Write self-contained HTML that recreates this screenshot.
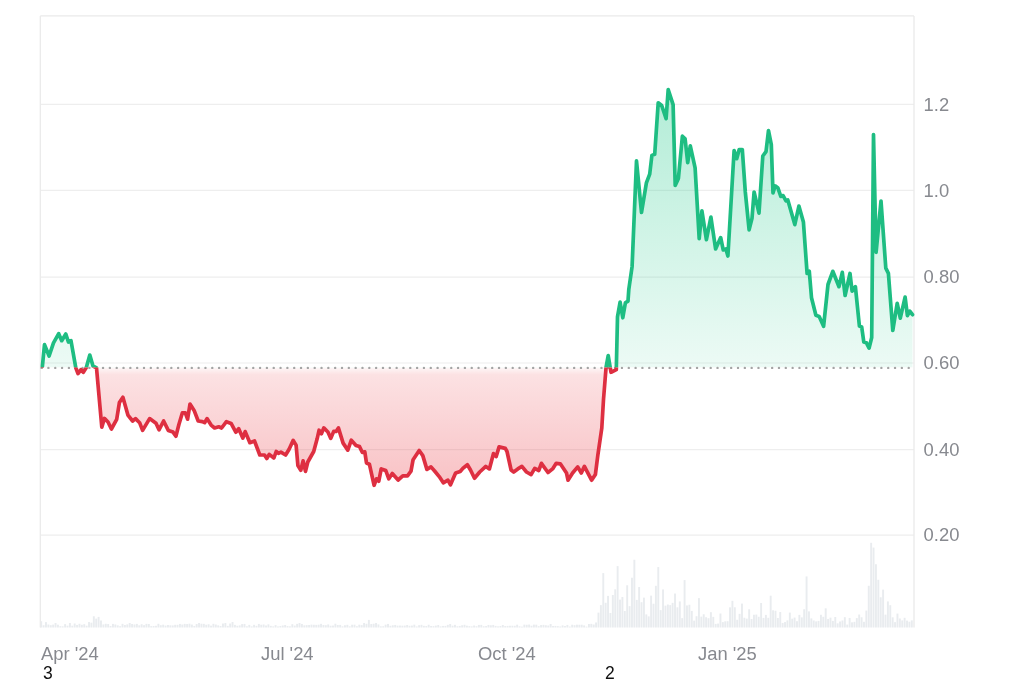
<!DOCTYPE html>
<html><head><meta charset="utf-8">
<style>
html,body{margin:0;padding:0;background:#fff;width:1024px;height:683px;overflow:hidden}
svg{display:block;filter:blur(0.35px)}
text{font-family:"Liberation Sans",sans-serif}
</style></head><body>
<svg width="1024" height="683" viewBox="0 0 1024 683">
<defs>
<clipPath id="up"><rect x="0" y="0" width="1024" height="367.6"/></clipPath>
<clipPath id="dn"><rect x="0" y="367.6" width="1024" height="315.4"/></clipPath>
<linearGradient id="gg" x1="0" y1="89" x2="0" y2="367.6" gradientUnits="userSpaceOnUse">
<stop offset="0" stop-color="#16c784" stop-opacity="0.33"/>
<stop offset="1" stop-color="#16c784" stop-opacity="0.08"/>
</linearGradient>
<linearGradient id="rg" x1="0" y1="367.6" x2="0" y2="486" gradientUnits="userSpaceOnUse">
<stop offset="0" stop-color="#ea3943" stop-opacity="0.04"/>
<stop offset="0.06" stop-color="#ea3943" stop-opacity="0.15"/>
<stop offset="1" stop-color="#ea3943" stop-opacity="0.31"/>
</linearGradient>
</defs>
<rect width="1024" height="683" fill="#fff"/>
<g fill="#e9ecef"><rect x="40.24" y="621.24" width="1.91" height="6.26"/><rect x="42.63" y="625.23" width="1.91" height="2.27"/><rect x="45.02" y="622.10" width="1.91" height="5.40"/><rect x="47.41" y="624.52" width="1.91" height="2.98"/><rect x="49.81" y="625.18" width="1.91" height="2.32"/><rect x="52.20" y="624.63" width="1.91" height="2.87"/><rect x="54.59" y="623.00" width="1.91" height="4.50"/><rect x="56.98" y="624.69" width="1.91" height="2.81"/><rect x="59.37" y="626.20" width="1.91" height="1.30"/><rect x="61.77" y="626.34" width="1.91" height="1.16"/><rect x="64.16" y="624.11" width="1.91" height="3.39"/><rect x="66.55" y="625.67" width="1.91" height="1.83"/><rect x="68.94" y="623.00" width="1.91" height="4.50"/><rect x="71.33" y="625.70" width="1.91" height="1.80"/><rect x="73.72" y="623.49" width="1.91" height="4.01"/><rect x="76.12" y="624.92" width="1.91" height="2.58"/><rect x="78.51" y="623.76" width="1.91" height="3.74"/><rect x="80.90" y="624.77" width="1.91" height="2.73"/><rect x="83.29" y="624.20" width="1.91" height="3.30"/><rect x="85.68" y="625.69" width="1.91" height="1.81"/><rect x="88.07" y="622.05" width="1.91" height="5.45"/><rect x="90.47" y="622.68" width="1.91" height="4.82"/><rect x="92.86" y="616.28" width="1.91" height="11.22"/><rect x="95.25" y="618.64" width="1.91" height="8.86"/><rect x="97.64" y="616.90" width="1.91" height="10.60"/><rect x="100.03" y="620.49" width="1.91" height="7.01"/><rect x="102.43" y="624.43" width="1.91" height="3.07"/><rect x="104.82" y="623.77" width="1.91" height="3.73"/><rect x="107.21" y="624.05" width="1.91" height="3.45"/><rect x="109.60" y="626.00" width="1.91" height="1.50"/><rect x="111.99" y="623.90" width="1.91" height="3.60"/><rect x="114.38" y="624.46" width="1.91" height="3.04"/><rect x="116.78" y="625.37" width="1.91" height="2.13"/><rect x="119.17" y="626.20" width="1.91" height="1.30"/><rect x="121.56" y="623.83" width="1.91" height="3.67"/><rect x="123.95" y="625.00" width="1.91" height="2.50"/><rect x="126.34" y="624.37" width="1.91" height="3.13"/><rect x="128.74" y="622.99" width="1.91" height="4.51"/><rect x="131.13" y="624.00" width="1.91" height="3.50"/><rect x="133.52" y="624.45" width="1.91" height="3.05"/><rect x="135.91" y="623.89" width="1.91" height="3.61"/><rect x="138.30" y="625.31" width="1.91" height="2.19"/><rect x="140.69" y="624.21" width="1.91" height="3.29"/><rect x="143.09" y="625.17" width="1.91" height="2.33"/><rect x="145.48" y="623.85" width="1.91" height="3.65"/><rect x="147.87" y="624.00" width="1.91" height="3.50"/><rect x="150.26" y="626.11" width="1.91" height="1.39"/><rect x="152.65" y="626.01" width="1.91" height="1.49"/><rect x="155.04" y="625.79" width="1.91" height="1.71"/><rect x="157.44" y="623.77" width="1.91" height="3.73"/><rect x="159.83" y="625.20" width="1.91" height="2.30"/><rect x="162.22" y="624.68" width="1.91" height="2.82"/><rect x="164.61" y="625.56" width="1.91" height="1.94"/><rect x="167.00" y="625.01" width="1.91" height="2.49"/><rect x="169.40" y="625.33" width="1.91" height="2.17"/><rect x="171.79" y="625.43" width="1.91" height="2.07"/><rect x="174.18" y="624.80" width="1.91" height="2.70"/><rect x="176.57" y="624.80" width="1.91" height="2.70"/><rect x="178.96" y="623.93" width="1.91" height="3.57"/><rect x="181.35" y="624.53" width="1.91" height="2.97"/><rect x="183.75" y="623.87" width="1.91" height="3.63"/><rect x="186.14" y="624.06" width="1.91" height="3.44"/><rect x="188.53" y="623.70" width="1.91" height="3.80"/><rect x="190.92" y="624.56" width="1.91" height="2.94"/><rect x="193.31" y="625.93" width="1.91" height="1.57"/><rect x="195.70" y="624.05" width="1.91" height="3.45"/><rect x="198.10" y="623.00" width="1.91" height="4.50"/><rect x="200.49" y="623.73" width="1.91" height="3.77"/><rect x="202.88" y="623.84" width="1.91" height="3.66"/><rect x="205.27" y="624.72" width="1.91" height="2.78"/><rect x="207.66" y="624.26" width="1.91" height="3.24"/><rect x="210.06" y="625.68" width="1.91" height="1.82"/><rect x="212.45" y="623.82" width="1.91" height="3.68"/><rect x="214.84" y="624.53" width="1.91" height="2.97"/><rect x="217.23" y="625.37" width="1.91" height="2.13"/><rect x="219.62" y="626.02" width="1.91" height="1.48"/><rect x="222.01" y="623.52" width="1.91" height="3.98"/><rect x="224.41" y="623.03" width="1.91" height="4.47"/><rect x="226.80" y="625.87" width="1.91" height="1.63"/><rect x="229.19" y="623.53" width="1.91" height="3.97"/><rect x="231.58" y="622.04" width="1.91" height="5.46"/><rect x="233.97" y="624.87" width="1.91" height="2.63"/><rect x="236.37" y="625.76" width="1.91" height="1.74"/><rect x="238.76" y="625.39" width="1.91" height="2.11"/><rect x="241.15" y="624.10" width="1.91" height="3.40"/><rect x="243.54" y="623.94" width="1.91" height="3.56"/><rect x="245.93" y="626.27" width="1.91" height="1.23"/><rect x="248.32" y="624.86" width="1.91" height="2.64"/><rect x="250.72" y="626.37" width="1.91" height="1.13"/><rect x="253.11" y="624.83" width="1.91" height="2.67"/><rect x="255.50" y="625.82" width="1.91" height="1.68"/><rect x="257.89" y="623.92" width="1.91" height="3.58"/><rect x="260.28" y="624.75" width="1.91" height="2.75"/><rect x="262.67" y="624.49" width="1.91" height="3.01"/><rect x="265.07" y="625.48" width="1.91" height="2.02"/><rect x="267.46" y="624.35" width="1.91" height="3.15"/><rect x="269.85" y="625.86" width="1.91" height="1.64"/><rect x="272.24" y="626.37" width="1.91" height="1.13"/><rect x="274.63" y="625.13" width="1.91" height="2.37"/><rect x="277.03" y="626.44" width="1.91" height="1.06"/><rect x="279.42" y="626.02" width="1.91" height="1.48"/><rect x="281.81" y="625.49" width="1.91" height="2.01"/><rect x="284.20" y="624.96" width="1.91" height="2.54"/><rect x="286.59" y="626.06" width="1.91" height="1.44"/><rect x="288.98" y="626.33" width="1.91" height="1.17"/><rect x="291.38" y="624.18" width="1.91" height="3.32"/><rect x="293.77" y="625.59" width="1.91" height="1.91"/><rect x="296.16" y="623.85" width="1.91" height="3.65"/><rect x="298.55" y="623.01" width="1.91" height="4.49"/><rect x="300.94" y="623.95" width="1.91" height="3.55"/><rect x="303.34" y="625.35" width="1.91" height="2.15"/><rect x="305.73" y="625.13" width="1.91" height="2.37"/><rect x="308.12" y="624.97" width="1.91" height="2.53"/><rect x="310.51" y="624.64" width="1.91" height="2.86"/><rect x="312.90" y="624.77" width="1.91" height="2.73"/><rect x="315.29" y="624.86" width="1.91" height="2.64"/><rect x="317.69" y="624.70" width="1.91" height="2.80"/><rect x="320.08" y="623.84" width="1.91" height="3.66"/><rect x="322.47" y="625.01" width="1.91" height="2.49"/><rect x="324.86" y="625.21" width="1.91" height="2.29"/><rect x="327.25" y="624.43" width="1.91" height="3.07"/><rect x="329.64" y="625.73" width="1.91" height="1.77"/><rect x="332.04" y="625.56" width="1.91" height="1.94"/><rect x="334.43" y="623.73" width="1.91" height="3.77"/><rect x="336.82" y="624.97" width="1.91" height="2.53"/><rect x="339.21" y="624.89" width="1.91" height="2.61"/><rect x="341.60" y="626.34" width="1.91" height="1.16"/><rect x="344.00" y="625.25" width="1.91" height="2.25"/><rect x="346.39" y="624.81" width="1.91" height="2.69"/><rect x="348.78" y="626.32" width="1.91" height="1.18"/><rect x="351.17" y="624.71" width="1.91" height="2.79"/><rect x="353.56" y="624.67" width="1.91" height="2.83"/><rect x="355.95" y="626.21" width="1.91" height="1.29"/><rect x="358.35" y="624.68" width="1.91" height="2.82"/><rect x="360.74" y="625.12" width="1.91" height="2.38"/><rect x="363.13" y="623.00" width="1.91" height="4.50"/><rect x="365.52" y="623.76" width="1.91" height="3.74"/><rect x="367.91" y="619.90" width="1.91" height="7.60"/><rect x="370.30" y="624.04" width="1.91" height="3.46"/><rect x="372.70" y="623.74" width="1.91" height="3.76"/><rect x="375.09" y="623.01" width="1.91" height="4.49"/><rect x="377.48" y="624.41" width="1.91" height="3.09"/><rect x="379.87" y="626.34" width="1.91" height="1.16"/><rect x="382.26" y="626.24" width="1.91" height="1.26"/><rect x="384.66" y="624.64" width="1.91" height="2.86"/><rect x="387.05" y="623.92" width="1.91" height="3.58"/><rect x="389.44" y="625.78" width="1.91" height="1.72"/><rect x="391.83" y="625.27" width="1.91" height="2.23"/><rect x="394.22" y="624.94" width="1.91" height="2.56"/><rect x="396.61" y="625.64" width="1.91" height="1.86"/><rect x="399.01" y="625.55" width="1.91" height="1.95"/><rect x="401.40" y="625.69" width="1.91" height="1.81"/><rect x="403.79" y="625.57" width="1.91" height="1.93"/><rect x="406.18" y="625.03" width="1.91" height="2.47"/><rect x="408.57" y="625.76" width="1.91" height="1.74"/><rect x="410.97" y="625.59" width="1.91" height="1.91"/><rect x="413.36" y="624.66" width="1.91" height="2.84"/><rect x="415.75" y="626.45" width="1.91" height="1.05"/><rect x="418.14" y="625.19" width="1.91" height="2.31"/><rect x="420.53" y="624.82" width="1.91" height="2.68"/><rect x="422.92" y="625.82" width="1.91" height="1.68"/><rect x="425.32" y="626.04" width="1.91" height="1.46"/><rect x="427.71" y="624.73" width="1.91" height="2.77"/><rect x="430.10" y="626.02" width="1.91" height="1.48"/><rect x="432.49" y="626.15" width="1.91" height="1.35"/><rect x="434.88" y="625.61" width="1.91" height="1.89"/><rect x="437.27" y="625.05" width="1.91" height="2.45"/><rect x="439.67" y="626.37" width="1.91" height="1.13"/><rect x="442.06" y="625.91" width="1.91" height="1.59"/><rect x="444.45" y="625.90" width="1.91" height="1.60"/><rect x="446.84" y="624.85" width="1.91" height="2.65"/><rect x="449.23" y="624.00" width="1.91" height="3.50"/><rect x="451.63" y="625.70" width="1.91" height="1.80"/><rect x="454.02" y="624.83" width="1.91" height="2.67"/><rect x="456.41" y="626.27" width="1.91" height="1.23"/><rect x="458.80" y="625.92" width="1.91" height="1.58"/><rect x="461.19" y="625.26" width="1.91" height="2.24"/><rect x="463.58" y="624.77" width="1.91" height="2.73"/><rect x="465.98" y="625.68" width="1.91" height="1.82"/><rect x="468.37" y="626.15" width="1.91" height="1.35"/><rect x="470.76" y="626.37" width="1.91" height="1.13"/><rect x="473.15" y="625.51" width="1.91" height="1.99"/><rect x="475.54" y="626.22" width="1.91" height="1.28"/><rect x="477.94" y="624.93" width="1.91" height="2.57"/><rect x="480.33" y="624.86" width="1.91" height="2.64"/><rect x="482.72" y="626.24" width="1.91" height="1.26"/><rect x="485.11" y="626.04" width="1.91" height="1.46"/><rect x="487.50" y="624.93" width="1.91" height="2.57"/><rect x="489.89" y="625.28" width="1.91" height="2.22"/><rect x="492.29" y="624.93" width="1.91" height="2.57"/><rect x="494.68" y="625.90" width="1.91" height="1.60"/><rect x="497.07" y="626.35" width="1.91" height="1.15"/><rect x="499.46" y="626.01" width="1.91" height="1.49"/><rect x="501.85" y="624.96" width="1.91" height="2.54"/><rect x="504.24" y="626.06" width="1.91" height="1.44"/><rect x="506.64" y="625.90" width="1.91" height="1.60"/><rect x="509.03" y="625.75" width="1.91" height="1.75"/><rect x="511.42" y="625.74" width="1.91" height="1.76"/><rect x="513.81" y="625.77" width="1.91" height="1.73"/><rect x="516.20" y="624.69" width="1.91" height="2.81"/><rect x="518.60" y="626.30" width="1.91" height="1.20"/><rect x="520.99" y="626.62" width="1.91" height="0.88"/><rect x="523.38" y="624.64" width="1.91" height="2.86"/><rect x="525.77" y="624.78" width="1.91" height="2.72"/><rect x="528.16" y="624.55" width="1.91" height="2.95"/><rect x="530.55" y="625.71" width="1.91" height="1.79"/><rect x="532.95" y="624.63" width="1.91" height="2.87"/><rect x="535.34" y="624.68" width="1.91" height="2.82"/><rect x="537.73" y="626.16" width="1.91" height="1.34"/><rect x="540.12" y="625.06" width="1.91" height="2.44"/><rect x="542.51" y="624.87" width="1.91" height="2.63"/><rect x="544.90" y="625.23" width="1.91" height="2.27"/><rect x="547.30" y="625.54" width="1.91" height="1.96"/><rect x="549.69" y="624.00" width="1.91" height="3.50"/><rect x="552.08" y="626.02" width="1.91" height="1.48"/><rect x="554.47" y="625.91" width="1.91" height="1.59"/><rect x="556.86" y="626.15" width="1.91" height="1.35"/><rect x="559.26" y="626.48" width="1.91" height="1.02"/><rect x="561.65" y="625.39" width="1.91" height="2.11"/><rect x="564.04" y="626.02" width="1.91" height="1.48"/><rect x="566.43" y="624.92" width="1.91" height="2.58"/><rect x="568.82" y="626.53" width="1.91" height="0.97"/><rect x="571.21" y="624.73" width="1.91" height="2.77"/><rect x="573.61" y="625.17" width="1.91" height="2.33"/><rect x="576.00" y="624.68" width="1.91" height="2.82"/><rect x="578.39" y="624.74" width="1.91" height="2.76"/><rect x="580.78" y="624.74" width="1.91" height="2.76"/><rect x="583.17" y="625.41" width="1.91" height="2.09"/><rect x="585.57" y="626.60" width="1.91" height="0.90"/><rect x="587.96" y="624.00" width="1.91" height="3.50"/><rect x="590.35" y="623.84" width="1.91" height="3.66"/><rect x="592.74" y="624.51" width="1.91" height="2.99"/><rect x="595.13" y="622.48" width="1.91" height="5.02"/><rect x="597.52" y="612.63" width="1.91" height="14.87"/><rect x="599.92" y="605.11" width="1.91" height="22.39"/><rect x="602.31" y="573.11" width="1.91" height="54.39"/><rect x="604.70" y="602.78" width="1.91" height="24.72"/><rect x="607.09" y="595.88" width="1.91" height="31.62"/><rect x="609.48" y="612.99" width="1.91" height="14.51"/><rect x="611.87" y="594.98" width="1.91" height="32.52"/><rect x="614.27" y="589.31" width="1.91" height="38.19"/><rect x="616.66" y="566.12" width="1.91" height="61.38"/><rect x="619.05" y="599.62" width="1.91" height="27.88"/><rect x="621.44" y="597.02" width="1.91" height="30.48"/><rect x="623.83" y="610.97" width="1.91" height="16.53"/><rect x="626.23" y="585.28" width="1.91" height="42.22"/><rect x="628.62" y="606.15" width="1.91" height="21.35"/><rect x="631.01" y="577.73" width="1.91" height="49.77"/><rect x="633.40" y="559.75" width="1.91" height="67.75"/><rect x="635.79" y="599.88" width="1.91" height="27.62"/><rect x="638.18" y="587.03" width="1.91" height="40.47"/><rect x="640.58" y="602.19" width="1.91" height="25.31"/><rect x="642.97" y="597.62" width="1.91" height="29.88"/><rect x="645.36" y="614.39" width="1.91" height="13.11"/><rect x="647.75" y="616.39" width="1.91" height="11.11"/><rect x="650.14" y="595.64" width="1.91" height="31.86"/><rect x="652.54" y="603.73" width="1.91" height="23.77"/><rect x="654.93" y="585.82" width="1.91" height="41.68"/><rect x="657.32" y="567.06" width="1.91" height="60.44"/><rect x="659.71" y="610.13" width="1.91" height="17.37"/><rect x="662.10" y="589.44" width="1.91" height="38.06"/><rect x="664.49" y="605.64" width="1.91" height="21.86"/><rect x="666.89" y="604.53" width="1.91" height="22.97"/><rect x="669.28" y="605.12" width="1.91" height="22.38"/><rect x="671.67" y="602.85" width="1.91" height="24.65"/><rect x="674.06" y="593.53" width="1.91" height="33.97"/><rect x="676.45" y="607.35" width="1.91" height="20.15"/><rect x="678.84" y="601.42" width="1.91" height="26.08"/><rect x="681.24" y="618.15" width="1.91" height="9.35"/><rect x="683.63" y="580.07" width="1.91" height="47.43"/><rect x="686.02" y="605.44" width="1.91" height="22.06"/><rect x="688.41" y="604.73" width="1.91" height="22.77"/><rect x="690.80" y="610.91" width="1.91" height="16.59"/><rect x="693.20" y="620.65" width="1.91" height="6.85"/><rect x="695.59" y="616.21" width="1.91" height="11.29"/><rect x="697.98" y="598.12" width="1.91" height="29.38"/><rect x="700.37" y="616.65" width="1.91" height="10.85"/><rect x="702.76" y="614.26" width="1.91" height="13.24"/><rect x="705.15" y="617.23" width="1.91" height="10.27"/><rect x="707.55" y="618.22" width="1.91" height="9.28"/><rect x="709.94" y="612.18" width="1.91" height="15.32"/><rect x="712.33" y="616.87" width="1.91" height="10.63"/><rect x="714.72" y="623.89" width="1.91" height="3.61"/><rect x="717.11" y="623.57" width="1.91" height="3.93"/><rect x="719.50" y="613.51" width="1.91" height="13.99"/><rect x="721.90" y="622.11" width="1.91" height="5.39"/><rect x="724.29" y="621.31" width="1.91" height="6.19"/><rect x="726.68" y="621.21" width="1.91" height="6.29"/><rect x="729.07" y="607.34" width="1.91" height="20.16"/><rect x="731.46" y="600.81" width="1.91" height="26.69"/><rect x="733.86" y="607.28" width="1.91" height="20.22"/><rect x="736.25" y="619.76" width="1.91" height="7.74"/><rect x="738.64" y="613.84" width="1.91" height="13.66"/><rect x="741.03" y="603.58" width="1.91" height="23.92"/><rect x="743.42" y="617.74" width="1.91" height="9.76"/><rect x="745.81" y="618.64" width="1.91" height="8.86"/><rect x="748.21" y="609.30" width="1.91" height="18.20"/><rect x="750.60" y="618.98" width="1.91" height="8.52"/><rect x="752.99" y="614.74" width="1.91" height="12.76"/><rect x="755.38" y="614.56" width="1.91" height="12.94"/><rect x="757.77" y="616.77" width="1.91" height="10.73"/><rect x="760.17" y="602.98" width="1.91" height="24.52"/><rect x="762.56" y="617.90" width="1.91" height="9.60"/><rect x="764.95" y="614.90" width="1.91" height="12.60"/><rect x="767.34" y="617.78" width="1.91" height="9.72"/><rect x="769.73" y="595.69" width="1.91" height="31.81"/><rect x="772.12" y="610.29" width="1.91" height="17.21"/><rect x="774.52" y="610.74" width="1.91" height="16.76"/><rect x="776.91" y="618.02" width="1.91" height="9.48"/><rect x="779.30" y="612.02" width="1.91" height="15.48"/><rect x="781.69" y="622.93" width="1.91" height="4.57"/><rect x="784.08" y="622.07" width="1.91" height="5.43"/><rect x="786.47" y="620.36" width="1.91" height="7.14"/><rect x="788.87" y="612.58" width="1.91" height="14.92"/><rect x="791.26" y="618.69" width="1.91" height="8.81"/><rect x="793.65" y="617.56" width="1.91" height="9.94"/><rect x="796.04" y="621.18" width="1.91" height="6.32"/><rect x="798.43" y="614.85" width="1.91" height="12.65"/><rect x="800.83" y="617.39" width="1.91" height="10.11"/><rect x="803.22" y="609.25" width="1.91" height="18.25"/><rect x="805.61" y="576.42" width="1.91" height="51.08"/><rect x="808.00" y="611.38" width="1.91" height="16.12"/><rect x="810.39" y="618.36" width="1.91" height="9.14"/><rect x="812.78" y="620.49" width="1.91" height="7.01"/><rect x="815.18" y="621.39" width="1.91" height="6.11"/><rect x="817.57" y="620.91" width="1.91" height="6.59"/><rect x="819.96" y="614.77" width="1.91" height="12.73"/><rect x="822.35" y="616.79" width="1.91" height="10.71"/><rect x="824.74" y="608.33" width="1.91" height="19.17"/><rect x="827.14" y="618.91" width="1.91" height="8.59"/><rect x="829.53" y="617.62" width="1.91" height="9.88"/><rect x="831.92" y="620.90" width="1.91" height="6.60"/><rect x="834.31" y="617.00" width="1.91" height="10.50"/><rect x="836.70" y="623.33" width="1.91" height="4.17"/><rect x="839.09" y="621.50" width="1.91" height="6.00"/><rect x="841.49" y="620.50" width="1.91" height="7.00"/><rect x="843.88" y="617.18" width="1.91" height="10.32"/><rect x="846.27" y="624.59" width="1.91" height="2.91"/><rect x="848.66" y="617.94" width="1.91" height="9.56"/><rect x="851.05" y="622.32" width="1.91" height="5.18"/><rect x="853.44" y="621.85" width="1.91" height="5.65"/><rect x="855.84" y="618.11" width="1.91" height="9.39"/><rect x="858.23" y="614.52" width="1.91" height="12.98"/><rect x="860.62" y="617.28" width="1.91" height="10.22"/><rect x="863.01" y="621.81" width="1.91" height="5.69"/><rect x="865.40" y="610.58" width="1.91" height="16.92"/><rect x="867.80" y="585.78" width="1.91" height="41.72"/><rect x="870.19" y="542.79" width="1.91" height="84.71"/><rect x="872.58" y="547.57" width="1.91" height="79.93"/><rect x="874.97" y="564.23" width="1.91" height="63.27"/><rect x="877.36" y="579.78" width="1.91" height="47.72"/><rect x="879.75" y="597.27" width="1.91" height="30.23"/><rect x="882.15" y="589.64" width="1.91" height="37.86"/><rect x="884.54" y="614.65" width="1.91" height="12.85"/><rect x="886.93" y="601.41" width="1.91" height="26.09"/><rect x="889.32" y="605.20" width="1.91" height="22.30"/><rect x="891.71" y="617.32" width="1.91" height="10.18"/><rect x="894.10" y="622.13" width="1.91" height="5.37"/><rect x="896.50" y="613.57" width="1.91" height="13.93"/><rect x="898.89" y="618.48" width="1.91" height="9.02"/><rect x="901.28" y="620.40" width="1.91" height="7.10"/><rect x="903.67" y="617.80" width="1.91" height="9.70"/><rect x="906.06" y="620.62" width="1.91" height="6.88"/><rect x="908.46" y="621.72" width="1.91" height="5.78"/><rect x="910.85" y="620.36" width="1.91" height="7.14"/></g>
<g stroke="#eeeeee" stroke-width="1.2"><line x1="40" y1="104.4" x2="914" y2="104.4"/><line x1="40" y1="190.3" x2="914" y2="190.3"/><line x1="40" y1="277.2" x2="914" y2="277.2"/><line x1="40" y1="363.0" x2="914" y2="363.0"/><line x1="40" y1="449.6" x2="914" y2="449.6"/><line x1="40" y1="535.1" x2="914" y2="535.1"/>
</g>
<g stroke="#eaeaea" stroke-width="1.3">
<line x1="40.3" y1="15.9" x2="914" y2="15.9"/>
<line x1="40.3" y1="15.9" x2="40.3" y2="627.5"/>
<line x1="914" y1="15.9" x2="914" y2="627.5"/>
</g>
<polygon points="42.4,367.6 42.4,366.3 44.5,344.6 49.1,356.0 53.5,342.8 58.7,333.7 61.7,340.7 65.8,334.0 68.4,342.0 71.0,340.7 75.8,367.8 78.0,373.6 81.0,369.6 83.3,372.4 86.3,367.5 89.8,355.1 93.0,366.0 96.5,367.8 101.8,427.2 104.4,418.4 108.0,422.0 111.4,429.0 116.7,419.3 119.4,402.6 122.9,397.3 127.9,415.1 132.6,421.0 135.5,418.6 139.6,422.7 142.6,430.4 149.6,418.6 156.0,423.3 159.0,429.8 163.6,421.0 168.3,430.4 173.0,432.1 175.9,436.2 178.9,424.5 182.4,412.8 185.3,412.8 187.6,419.2 190.0,404.0 194.1,410.4 198.2,421.0 202.3,421.6 204.6,422.7 207.0,418.6 211.1,425.1 214.6,428.0 218.7,426.8 221.6,428.0 226.4,421.7 231.1,423.4 235.8,432.2 238.7,428.7 242.8,438.1 245.2,431.6 249.9,442.7 254.5,441.0 259.8,455.0 264.5,455.0 266.8,458.5 269.2,454.4 273.9,458.0 276.2,451.5 278.5,453.3 280.9,452.1 285.6,455.0 289.1,449.2 293.2,440.4 296.1,445.1 297.9,465.6 300.8,470.3 303.1,460.9 305.5,471.4 307.8,462.0 313.7,451.5 317.2,438.6 319.1,430.2 321.4,433.7 323.8,427.9 327.9,432.0 330.8,438.4 333.7,431.4 336.1,431.4 338.4,427.9 343.1,443.1 347.8,450.1 351.3,440.2 356.0,445.4 359.5,446.6 362.4,452.5 364.8,451.9 366.5,463.0 369.4,464.2 374.1,485.3 376.5,478.8 378.8,481.2 381.2,468.9 385.8,470.6 388.8,478.8 392.3,473.5 398.1,480.0 402.8,475.9 407.5,475.9 411.0,471.2 413.1,459.7 419.2,450.5 422.8,455.6 426.9,469.4 431.0,466.9 434.6,471.0 439.2,476.6 443.3,482.8 447.9,480.2 450.5,484.8 455.6,473.0 460.2,471.5 463.3,467.9 467.4,464.8 470.5,470.0 474.5,478.2 479.7,472.0 485.8,466.4 489.4,468.9 493.5,453.6 496.1,456.6 499.1,446.9 505.3,448.4 507.0,451.5 511.1,470.0 513.7,472.0 517.8,468.9 521.9,466.4 526.5,472.0 531.1,474.6 534.7,468.4 538.8,470.5 541.4,463.3 548.0,472.5 552.6,468.9 556.2,463.3 560.3,463.8 566.5,473.0 568.0,480.2 572.6,473.0 577.7,466.9 581.3,473.0 584.4,466.4 591.6,480.2 595.4,474.4 597.8,455.5 601.8,428.0 603.5,399.5 606.1,367.0 608.2,355.6 611.0,372.3 616.3,369.6 617.5,316.9 620.1,302.0 622.8,317.8 625.4,302.8 628.0,301.1 628.8,289.5 632.1,266.4 636.5,160.9 641.5,212.5 646.4,182.9 649.7,174.1 651.9,155.4 654.7,154.3 658.2,102.8 661.7,105.5 666.1,118.7 668.2,89.7 673.1,104.6 675.2,185.4 678.4,178.4 682.4,136.2 685.1,138.9 687.7,162.6 690.3,145.9 695.1,167.9 699.2,238.6 701.9,210.9 706.4,239.6 710.9,217.1 715.6,248.9 720.7,237.6 723.2,249.9 725.9,248.9 727.9,256.0 734.1,150.5 736.7,158.7 739.2,149.5 742.3,149.5 745.3,192.0 749.1,229.8 752.0,218.4 754.1,192.0 759.0,213.1 762.8,156.0 766.0,151.6 768.5,130.5 771.3,144.6 773.0,192.9 775.1,185.9 777.8,187.7 780.8,196.4 783.1,195.6 786.0,200.8 787.8,200.0 794.8,224.6 798.9,206.1 803.4,221.9 807.1,273.5 809.3,271.3 811.5,297.7 815.9,315.3 819.2,316.4 823.6,326.3 828.0,284.5 832.8,271.3 839.0,286.7 842.3,272.4 845.1,295.5 850.0,273.5 852.1,291.1 855.4,286.7 859.4,326.1 861.7,327.0 863.8,341.9 866.4,342.8 869.1,348.1 871.7,337.5 873.5,134.5 876.1,252.3 881.0,201.0 885.8,268.1 888.4,273.4 892.8,330.5 897.2,303.3 900.3,318.2 905.1,297.1 907.4,315.6 909.8,311.2 912.5,314.7 912.5,367.6" fill="url(#gg)" clip-path="url(#up)"/>
<polygon points="42.4,367.6 42.4,366.3 44.5,344.6 49.1,356.0 53.5,342.8 58.7,333.7 61.7,340.7 65.8,334.0 68.4,342.0 71.0,340.7 75.8,367.8 78.0,373.6 81.0,369.6 83.3,372.4 86.3,367.5 89.8,355.1 93.0,366.0 96.5,367.8 101.8,427.2 104.4,418.4 108.0,422.0 111.4,429.0 116.7,419.3 119.4,402.6 122.9,397.3 127.9,415.1 132.6,421.0 135.5,418.6 139.6,422.7 142.6,430.4 149.6,418.6 156.0,423.3 159.0,429.8 163.6,421.0 168.3,430.4 173.0,432.1 175.9,436.2 178.9,424.5 182.4,412.8 185.3,412.8 187.6,419.2 190.0,404.0 194.1,410.4 198.2,421.0 202.3,421.6 204.6,422.7 207.0,418.6 211.1,425.1 214.6,428.0 218.7,426.8 221.6,428.0 226.4,421.7 231.1,423.4 235.8,432.2 238.7,428.7 242.8,438.1 245.2,431.6 249.9,442.7 254.5,441.0 259.8,455.0 264.5,455.0 266.8,458.5 269.2,454.4 273.9,458.0 276.2,451.5 278.5,453.3 280.9,452.1 285.6,455.0 289.1,449.2 293.2,440.4 296.1,445.1 297.9,465.6 300.8,470.3 303.1,460.9 305.5,471.4 307.8,462.0 313.7,451.5 317.2,438.6 319.1,430.2 321.4,433.7 323.8,427.9 327.9,432.0 330.8,438.4 333.7,431.4 336.1,431.4 338.4,427.9 343.1,443.1 347.8,450.1 351.3,440.2 356.0,445.4 359.5,446.6 362.4,452.5 364.8,451.9 366.5,463.0 369.4,464.2 374.1,485.3 376.5,478.8 378.8,481.2 381.2,468.9 385.8,470.6 388.8,478.8 392.3,473.5 398.1,480.0 402.8,475.9 407.5,475.9 411.0,471.2 413.1,459.7 419.2,450.5 422.8,455.6 426.9,469.4 431.0,466.9 434.6,471.0 439.2,476.6 443.3,482.8 447.9,480.2 450.5,484.8 455.6,473.0 460.2,471.5 463.3,467.9 467.4,464.8 470.5,470.0 474.5,478.2 479.7,472.0 485.8,466.4 489.4,468.9 493.5,453.6 496.1,456.6 499.1,446.9 505.3,448.4 507.0,451.5 511.1,470.0 513.7,472.0 517.8,468.9 521.9,466.4 526.5,472.0 531.1,474.6 534.7,468.4 538.8,470.5 541.4,463.3 548.0,472.5 552.6,468.9 556.2,463.3 560.3,463.8 566.5,473.0 568.0,480.2 572.6,473.0 577.7,466.9 581.3,473.0 584.4,466.4 591.6,480.2 595.4,474.4 597.8,455.5 601.8,428.0 603.5,399.5 606.1,367.0 608.2,355.6 611.0,372.3 616.3,369.6 617.5,316.9 620.1,302.0 622.8,317.8 625.4,302.8 628.0,301.1 628.8,289.5 632.1,266.4 636.5,160.9 641.5,212.5 646.4,182.9 649.7,174.1 651.9,155.4 654.7,154.3 658.2,102.8 661.7,105.5 666.1,118.7 668.2,89.7 673.1,104.6 675.2,185.4 678.4,178.4 682.4,136.2 685.1,138.9 687.7,162.6 690.3,145.9 695.1,167.9 699.2,238.6 701.9,210.9 706.4,239.6 710.9,217.1 715.6,248.9 720.7,237.6 723.2,249.9 725.9,248.9 727.9,256.0 734.1,150.5 736.7,158.7 739.2,149.5 742.3,149.5 745.3,192.0 749.1,229.8 752.0,218.4 754.1,192.0 759.0,213.1 762.8,156.0 766.0,151.6 768.5,130.5 771.3,144.6 773.0,192.9 775.1,185.9 777.8,187.7 780.8,196.4 783.1,195.6 786.0,200.8 787.8,200.0 794.8,224.6 798.9,206.1 803.4,221.9 807.1,273.5 809.3,271.3 811.5,297.7 815.9,315.3 819.2,316.4 823.6,326.3 828.0,284.5 832.8,271.3 839.0,286.7 842.3,272.4 845.1,295.5 850.0,273.5 852.1,291.1 855.4,286.7 859.4,326.1 861.7,327.0 863.8,341.9 866.4,342.8 869.1,348.1 871.7,337.5 873.5,134.5 876.1,252.3 881.0,201.0 885.8,268.1 888.4,273.4 892.8,330.5 897.2,303.3 900.3,318.2 905.1,297.1 907.4,315.6 909.8,311.2 912.5,314.7 912.5,367.6" fill="url(#rg)" clip-path="url(#dn)"/>
<g fill="#a4a4a4"><circle cx="41.59" cy="367.9" r="1.2"/><circle cx="48.42" cy="367.9" r="1.2"/><circle cx="55.25" cy="367.9" r="1.2"/><circle cx="62.08" cy="367.9" r="1.2"/><circle cx="68.90" cy="367.9" r="1.2"/><circle cx="75.73" cy="367.9" r="1.2"/><circle cx="82.56" cy="367.9" r="1.2"/><circle cx="89.39" cy="367.9" r="1.2"/><circle cx="96.21" cy="367.9" r="1.2"/><circle cx="103.04" cy="367.9" r="1.2"/><circle cx="109.87" cy="367.9" r="1.2"/><circle cx="116.70" cy="367.9" r="1.2"/><circle cx="123.52" cy="367.9" r="1.2"/><circle cx="130.35" cy="367.9" r="1.2"/><circle cx="137.18" cy="367.9" r="1.2"/><circle cx="144.01" cy="367.9" r="1.2"/><circle cx="150.83" cy="367.9" r="1.2"/><circle cx="157.66" cy="367.9" r="1.2"/><circle cx="164.49" cy="367.9" r="1.2"/><circle cx="171.32" cy="367.9" r="1.2"/><circle cx="178.14" cy="367.9" r="1.2"/><circle cx="184.97" cy="367.9" r="1.2"/><circle cx="191.80" cy="367.9" r="1.2"/><circle cx="198.63" cy="367.9" r="1.2"/><circle cx="205.45" cy="367.9" r="1.2"/><circle cx="212.28" cy="367.9" r="1.2"/><circle cx="219.11" cy="367.9" r="1.2"/><circle cx="225.94" cy="367.9" r="1.2"/><circle cx="232.77" cy="367.9" r="1.2"/><circle cx="239.59" cy="367.9" r="1.2"/><circle cx="246.42" cy="367.9" r="1.2"/><circle cx="253.25" cy="367.9" r="1.2"/><circle cx="260.08" cy="367.9" r="1.2"/><circle cx="266.90" cy="367.9" r="1.2"/><circle cx="273.73" cy="367.9" r="1.2"/><circle cx="280.56" cy="367.9" r="1.2"/><circle cx="287.39" cy="367.9" r="1.2"/><circle cx="294.21" cy="367.9" r="1.2"/><circle cx="301.04" cy="367.9" r="1.2"/><circle cx="307.87" cy="367.9" r="1.2"/><circle cx="314.70" cy="367.9" r="1.2"/><circle cx="321.52" cy="367.9" r="1.2"/><circle cx="328.35" cy="367.9" r="1.2"/><circle cx="335.18" cy="367.9" r="1.2"/><circle cx="342.01" cy="367.9" r="1.2"/><circle cx="348.83" cy="367.9" r="1.2"/><circle cx="355.66" cy="367.9" r="1.2"/><circle cx="362.49" cy="367.9" r="1.2"/><circle cx="369.32" cy="367.9" r="1.2"/><circle cx="376.14" cy="367.9" r="1.2"/><circle cx="382.97" cy="367.9" r="1.2"/><circle cx="389.80" cy="367.9" r="1.2"/><circle cx="396.63" cy="367.9" r="1.2"/><circle cx="403.46" cy="367.9" r="1.2"/><circle cx="410.28" cy="367.9" r="1.2"/><circle cx="417.11" cy="367.9" r="1.2"/><circle cx="423.94" cy="367.9" r="1.2"/><circle cx="430.77" cy="367.9" r="1.2"/><circle cx="437.59" cy="367.9" r="1.2"/><circle cx="444.42" cy="367.9" r="1.2"/><circle cx="451.25" cy="367.9" r="1.2"/><circle cx="458.08" cy="367.9" r="1.2"/><circle cx="464.90" cy="367.9" r="1.2"/><circle cx="471.73" cy="367.9" r="1.2"/><circle cx="478.56" cy="367.9" r="1.2"/><circle cx="485.39" cy="367.9" r="1.2"/><circle cx="492.21" cy="367.9" r="1.2"/><circle cx="499.04" cy="367.9" r="1.2"/><circle cx="505.87" cy="367.9" r="1.2"/><circle cx="512.70" cy="367.9" r="1.2"/><circle cx="519.52" cy="367.9" r="1.2"/><circle cx="526.35" cy="367.9" r="1.2"/><circle cx="533.18" cy="367.9" r="1.2"/><circle cx="540.01" cy="367.9" r="1.2"/><circle cx="546.83" cy="367.9" r="1.2"/><circle cx="553.66" cy="367.9" r="1.2"/><circle cx="560.49" cy="367.9" r="1.2"/><circle cx="567.32" cy="367.9" r="1.2"/><circle cx="574.15" cy="367.9" r="1.2"/><circle cx="580.97" cy="367.9" r="1.2"/><circle cx="587.80" cy="367.9" r="1.2"/><circle cx="594.63" cy="367.9" r="1.2"/><circle cx="601.46" cy="367.9" r="1.2"/><circle cx="608.28" cy="367.9" r="1.2"/><circle cx="615.11" cy="367.9" r="1.2"/><circle cx="621.94" cy="367.9" r="1.2"/><circle cx="628.77" cy="367.9" r="1.2"/><circle cx="635.59" cy="367.9" r="1.2"/><circle cx="642.42" cy="367.9" r="1.2"/><circle cx="649.25" cy="367.9" r="1.2"/><circle cx="656.08" cy="367.9" r="1.2"/><circle cx="662.90" cy="367.9" r="1.2"/><circle cx="669.73" cy="367.9" r="1.2"/><circle cx="676.56" cy="367.9" r="1.2"/><circle cx="683.39" cy="367.9" r="1.2"/><circle cx="690.21" cy="367.9" r="1.2"/><circle cx="697.04" cy="367.9" r="1.2"/><circle cx="703.87" cy="367.9" r="1.2"/><circle cx="710.70" cy="367.9" r="1.2"/><circle cx="717.52" cy="367.9" r="1.2"/><circle cx="724.35" cy="367.9" r="1.2"/><circle cx="731.18" cy="367.9" r="1.2"/><circle cx="738.01" cy="367.9" r="1.2"/><circle cx="744.84" cy="367.9" r="1.2"/><circle cx="751.66" cy="367.9" r="1.2"/><circle cx="758.49" cy="367.9" r="1.2"/><circle cx="765.32" cy="367.9" r="1.2"/><circle cx="772.15" cy="367.9" r="1.2"/><circle cx="778.97" cy="367.9" r="1.2"/><circle cx="785.80" cy="367.9" r="1.2"/><circle cx="792.63" cy="367.9" r="1.2"/><circle cx="799.46" cy="367.9" r="1.2"/><circle cx="806.28" cy="367.9" r="1.2"/><circle cx="813.11" cy="367.9" r="1.2"/><circle cx="819.94" cy="367.9" r="1.2"/><circle cx="826.77" cy="367.9" r="1.2"/><circle cx="833.59" cy="367.9" r="1.2"/><circle cx="840.42" cy="367.9" r="1.2"/><circle cx="847.25" cy="367.9" r="1.2"/><circle cx="854.08" cy="367.9" r="1.2"/><circle cx="860.90" cy="367.9" r="1.2"/><circle cx="867.73" cy="367.9" r="1.2"/><circle cx="874.56" cy="367.9" r="1.2"/><circle cx="881.39" cy="367.9" r="1.2"/><circle cx="888.21" cy="367.9" r="1.2"/><circle cx="895.04" cy="367.9" r="1.2"/><circle cx="901.87" cy="367.9" r="1.2"/><circle cx="908.70" cy="367.9" r="1.2"/></g>
<polyline points="42.4,366.3 44.5,344.6 49.1,356.0 53.5,342.8 58.7,333.7 61.7,340.7 65.8,334.0 68.4,342.0 71.0,340.7 75.8,367.8 78.0,373.6 81.0,369.6 83.3,372.4 86.3,367.5 89.8,355.1 93.0,366.0 96.5,367.8 101.8,427.2 104.4,418.4 108.0,422.0 111.4,429.0 116.7,419.3 119.4,402.6 122.9,397.3 127.9,415.1 132.6,421.0 135.5,418.6 139.6,422.7 142.6,430.4 149.6,418.6 156.0,423.3 159.0,429.8 163.6,421.0 168.3,430.4 173.0,432.1 175.9,436.2 178.9,424.5 182.4,412.8 185.3,412.8 187.6,419.2 190.0,404.0 194.1,410.4 198.2,421.0 202.3,421.6 204.6,422.7 207.0,418.6 211.1,425.1 214.6,428.0 218.7,426.8 221.6,428.0 226.4,421.7 231.1,423.4 235.8,432.2 238.7,428.7 242.8,438.1 245.2,431.6 249.9,442.7 254.5,441.0 259.8,455.0 264.5,455.0 266.8,458.5 269.2,454.4 273.9,458.0 276.2,451.5 278.5,453.3 280.9,452.1 285.6,455.0 289.1,449.2 293.2,440.4 296.1,445.1 297.9,465.6 300.8,470.3 303.1,460.9 305.5,471.4 307.8,462.0 313.7,451.5 317.2,438.6 319.1,430.2 321.4,433.7 323.8,427.9 327.9,432.0 330.8,438.4 333.7,431.4 336.1,431.4 338.4,427.9 343.1,443.1 347.8,450.1 351.3,440.2 356.0,445.4 359.5,446.6 362.4,452.5 364.8,451.9 366.5,463.0 369.4,464.2 374.1,485.3 376.5,478.8 378.8,481.2 381.2,468.9 385.8,470.6 388.8,478.8 392.3,473.5 398.1,480.0 402.8,475.9 407.5,475.9 411.0,471.2 413.1,459.7 419.2,450.5 422.8,455.6 426.9,469.4 431.0,466.9 434.6,471.0 439.2,476.6 443.3,482.8 447.9,480.2 450.5,484.8 455.6,473.0 460.2,471.5 463.3,467.9 467.4,464.8 470.5,470.0 474.5,478.2 479.7,472.0 485.8,466.4 489.4,468.9 493.5,453.6 496.1,456.6 499.1,446.9 505.3,448.4 507.0,451.5 511.1,470.0 513.7,472.0 517.8,468.9 521.9,466.4 526.5,472.0 531.1,474.6 534.7,468.4 538.8,470.5 541.4,463.3 548.0,472.5 552.6,468.9 556.2,463.3 560.3,463.8 566.5,473.0 568.0,480.2 572.6,473.0 577.7,466.9 581.3,473.0 584.4,466.4 591.6,480.2 595.4,474.4 597.8,455.5 601.8,428.0 603.5,399.5 606.1,367.0 608.2,355.6 611.0,372.3 616.3,369.6 617.5,316.9 620.1,302.0 622.8,317.8 625.4,302.8 628.0,301.1 628.8,289.5 632.1,266.4 636.5,160.9 641.5,212.5 646.4,182.9 649.7,174.1 651.9,155.4 654.7,154.3 658.2,102.8 661.7,105.5 666.1,118.7 668.2,89.7 673.1,104.6 675.2,185.4 678.4,178.4 682.4,136.2 685.1,138.9 687.7,162.6 690.3,145.9 695.1,167.9 699.2,238.6 701.9,210.9 706.4,239.6 710.9,217.1 715.6,248.9 720.7,237.6 723.2,249.9 725.9,248.9 727.9,256.0 734.1,150.5 736.7,158.7 739.2,149.5 742.3,149.5 745.3,192.0 749.1,229.8 752.0,218.4 754.1,192.0 759.0,213.1 762.8,156.0 766.0,151.6 768.5,130.5 771.3,144.6 773.0,192.9 775.1,185.9 777.8,187.7 780.8,196.4 783.1,195.6 786.0,200.8 787.8,200.0 794.8,224.6 798.9,206.1 803.4,221.9 807.1,273.5 809.3,271.3 811.5,297.7 815.9,315.3 819.2,316.4 823.6,326.3 828.0,284.5 832.8,271.3 839.0,286.7 842.3,272.4 845.1,295.5 850.0,273.5 852.1,291.1 855.4,286.7 859.4,326.1 861.7,327.0 863.8,341.9 866.4,342.8 869.1,348.1 871.7,337.5 873.5,134.5 876.1,252.3 881.0,201.0 885.8,268.1 888.4,273.4 892.8,330.5 897.2,303.3 900.3,318.2 905.1,297.1 907.4,315.6 909.8,311.2 912.5,314.7" fill="none" stroke="#1ebd82" stroke-width="3.7" stroke-linejoin="round" stroke-linecap="round" clip-path="url(#up)"/>
<polyline points="42.4,366.3 44.5,344.6 49.1,356.0 53.5,342.8 58.7,333.7 61.7,340.7 65.8,334.0 68.4,342.0 71.0,340.7 75.8,367.8 78.0,373.6 81.0,369.6 83.3,372.4 86.3,367.5 89.8,355.1 93.0,366.0 96.5,367.8 101.8,427.2 104.4,418.4 108.0,422.0 111.4,429.0 116.7,419.3 119.4,402.6 122.9,397.3 127.9,415.1 132.6,421.0 135.5,418.6 139.6,422.7 142.6,430.4 149.6,418.6 156.0,423.3 159.0,429.8 163.6,421.0 168.3,430.4 173.0,432.1 175.9,436.2 178.9,424.5 182.4,412.8 185.3,412.8 187.6,419.2 190.0,404.0 194.1,410.4 198.2,421.0 202.3,421.6 204.6,422.7 207.0,418.6 211.1,425.1 214.6,428.0 218.7,426.8 221.6,428.0 226.4,421.7 231.1,423.4 235.8,432.2 238.7,428.7 242.8,438.1 245.2,431.6 249.9,442.7 254.5,441.0 259.8,455.0 264.5,455.0 266.8,458.5 269.2,454.4 273.9,458.0 276.2,451.5 278.5,453.3 280.9,452.1 285.6,455.0 289.1,449.2 293.2,440.4 296.1,445.1 297.9,465.6 300.8,470.3 303.1,460.9 305.5,471.4 307.8,462.0 313.7,451.5 317.2,438.6 319.1,430.2 321.4,433.7 323.8,427.9 327.9,432.0 330.8,438.4 333.7,431.4 336.1,431.4 338.4,427.9 343.1,443.1 347.8,450.1 351.3,440.2 356.0,445.4 359.5,446.6 362.4,452.5 364.8,451.9 366.5,463.0 369.4,464.2 374.1,485.3 376.5,478.8 378.8,481.2 381.2,468.9 385.8,470.6 388.8,478.8 392.3,473.5 398.1,480.0 402.8,475.9 407.5,475.9 411.0,471.2 413.1,459.7 419.2,450.5 422.8,455.6 426.9,469.4 431.0,466.9 434.6,471.0 439.2,476.6 443.3,482.8 447.9,480.2 450.5,484.8 455.6,473.0 460.2,471.5 463.3,467.9 467.4,464.8 470.5,470.0 474.5,478.2 479.7,472.0 485.8,466.4 489.4,468.9 493.5,453.6 496.1,456.6 499.1,446.9 505.3,448.4 507.0,451.5 511.1,470.0 513.7,472.0 517.8,468.9 521.9,466.4 526.5,472.0 531.1,474.6 534.7,468.4 538.8,470.5 541.4,463.3 548.0,472.5 552.6,468.9 556.2,463.3 560.3,463.8 566.5,473.0 568.0,480.2 572.6,473.0 577.7,466.9 581.3,473.0 584.4,466.4 591.6,480.2 595.4,474.4 597.8,455.5 601.8,428.0 603.5,399.5 606.1,367.0 608.2,355.6 611.0,372.3 616.3,369.6 617.5,316.9 620.1,302.0 622.8,317.8 625.4,302.8 628.0,301.1 628.8,289.5 632.1,266.4 636.5,160.9 641.5,212.5 646.4,182.9 649.7,174.1 651.9,155.4 654.7,154.3 658.2,102.8 661.7,105.5 666.1,118.7 668.2,89.7 673.1,104.6 675.2,185.4 678.4,178.4 682.4,136.2 685.1,138.9 687.7,162.6 690.3,145.9 695.1,167.9 699.2,238.6 701.9,210.9 706.4,239.6 710.9,217.1 715.6,248.9 720.7,237.6 723.2,249.9 725.9,248.9 727.9,256.0 734.1,150.5 736.7,158.7 739.2,149.5 742.3,149.5 745.3,192.0 749.1,229.8 752.0,218.4 754.1,192.0 759.0,213.1 762.8,156.0 766.0,151.6 768.5,130.5 771.3,144.6 773.0,192.9 775.1,185.9 777.8,187.7 780.8,196.4 783.1,195.6 786.0,200.8 787.8,200.0 794.8,224.6 798.9,206.1 803.4,221.9 807.1,273.5 809.3,271.3 811.5,297.7 815.9,315.3 819.2,316.4 823.6,326.3 828.0,284.5 832.8,271.3 839.0,286.7 842.3,272.4 845.1,295.5 850.0,273.5 852.1,291.1 855.4,286.7 859.4,326.1 861.7,327.0 863.8,341.9 866.4,342.8 869.1,348.1 871.7,337.5 873.5,134.5 876.1,252.3 881.0,201.0 885.8,268.1 888.4,273.4 892.8,330.5 897.2,303.3 900.3,318.2 905.1,297.1 907.4,315.6 909.8,311.2 912.5,314.7" fill="none" stroke="#de2f41" stroke-width="3.7" stroke-linejoin="round" stroke-linecap="round" clip-path="url(#dn)"/>
<g fill="#87898f" font-size="18.4"><text x="923.6" y="110.6">1.2</text><text x="923.6" y="196.5">1.0</text><text x="923.6" y="283.4">0.80</text><text x="923.6" y="369.2">0.60</text><text x="923.6" y="455.8">0.40</text><text x="923.6" y="541.3">0.20</text>
<text x="41" y="660.3">Apr '24</text>
<text x="261" y="660.3">Jul '24</text>
<text x="478" y="660.3">Oct '24</text>
<text x="698" y="660.3">Jan '25</text>
</g>
<g fill="#111" font-size="17.5">
<text x="43" y="679">3</text>
<text x="605" y="679">2</text>
</g>
</svg>
</body></html>
